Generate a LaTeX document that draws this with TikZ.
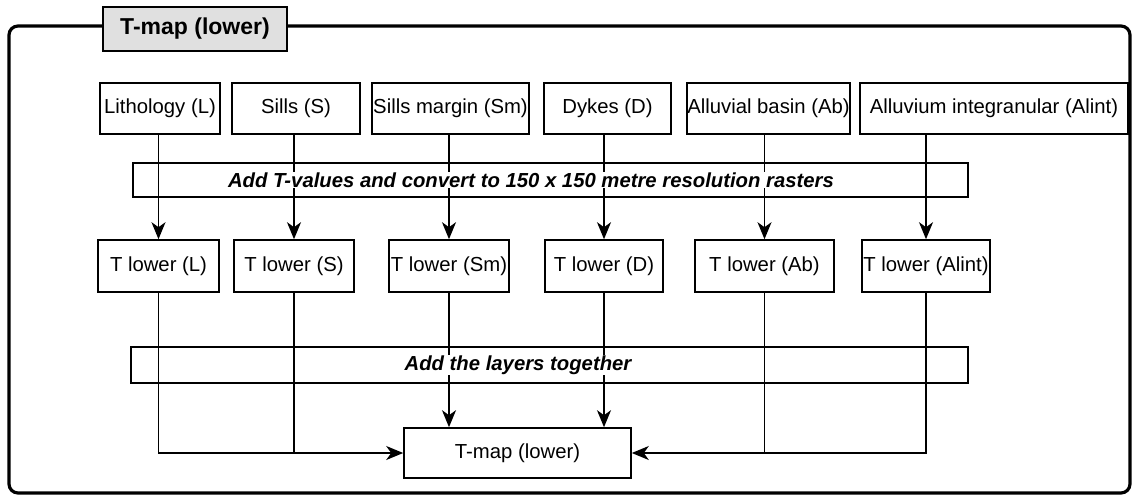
\documentclass[tikz,border=0pt]{standalone}
\usepackage{fontspec}
\setmainfont{Liberation Sans}
\usetikzlibrary{arrows.meta}
\begin{document}
\begin{tikzpicture}[x=1pt,y=-1pt,
  box/.style={draw,line width=1.6pt,inner sep=0pt,font=\fontsize{20.3}{23}\selectfont},
  toprow/.style={box,minimum height=51pt},
  midrow/.style={box,minimum height=52pt},
  band/.style={draw,line width=1.6pt,inner sep=0pt},
  bandtext/.style={fill=white,inner sep=1pt,font=\fontsize{20.3}{23}\selectfont\bfseries\itshape},
  conn/.style={line width=1.5pt},
  arr/.style={conn,-{Stealth[length=17pt,width=14pt,inset=5pt]}},
  frame/.style={line width=3.2pt,rounded corners=9pt},
  titlebox/.style={draw,line width=2pt,fill=black!12,inner sep=0pt,minimum width=184pt,minimum height=44pt,font=\fontsize{23}{26}\selectfont\bfseries}]
\useasboundingbox (0,0) rectangle (1133,498);
% outer frame
\draw[frame] (9,26) rectangle (1130,493);
\node[titlebox] (title) at (195,29) {T-map (lower)};
% top row
\node[toprow,minimum width=120pt] (tL) at (160,108.5) {Lithology (L)};
\node[toprow,minimum width=128pt] (tS) at (296,108.5) {Sills (S)};
\node[toprow,minimum width=157pt] (tSm) at (450.5,108.5) {Sills margin (Sm)};
\node[toprow,minimum width=127pt] (tD) at (607.5,108.5) {Dykes (D)};
\node[toprow,minimum width=163pt] (tAb) at (768.5,108.5) {Alluvial basin (Ab)};
\node[toprow,minimum width=268pt] (tAlint) at (994,108.5) {Alluvium integranular (Alint)};
% middle row
\node[midrow,minimum width=121pt] (mL) at (158.5,266) {T lower (L)};
\node[midrow,minimum width=120pt] (mS) at (294,266) {T lower (S)};
\node[midrow,minimum width=120pt] (mSm) at (449,266) {T lower (Sm)};
\node[midrow,minimum width=118pt] (mD) at (604,266) {T lower (D)};
\node[midrow,minimum width=139pt] (mAb) at (764.5,266) {T lower (Ab)};
\node[midrow,minimum width=128pt] (mAlint) at (926,266) {T lower (Alint)};
% final
\node[box,minimum width=227pt,minimum height=50pt] (tmap) at (517.5,453) {T-map (lower)};
% bands
\node[band,minimum width=835pt,minimum height=34pt] (band1) at (550.5,180) {};
\node[band,minimum width=837pt,minimum height=36pt] (band2) at (549.5,365) {};
% connectors top -> middle
\foreach \n in {L,S,Sm,D,Ab,Alint}{
  \draw[arr] (t\n.south -| m\n.north) -- (m\n.north);
}
% connectors middle -> final
\draw[arr] (mL.south) |- (tmap.west);
\draw[conn] (mS.south) -- (mS.south |- tmap.west);
\draw[arr] (mSm.south) -- (mSm.south |- tmap.north);
\draw[arr] (mD.south) -- (mD.south |- tmap.north);
\draw[conn] (mAb.south) -- (mAb.south |- tmap.east);
\draw[arr] (mAlint.south) |- (tmap.east);
% band texts
\node[bandtext] (b1text) at (531,180) {Add T-values and convert to 150 x 150 metre resolution rasters};
\node[bandtext] (b2text) at (518,365) {Add the layers together};
\end{tikzpicture}
\end{document}
